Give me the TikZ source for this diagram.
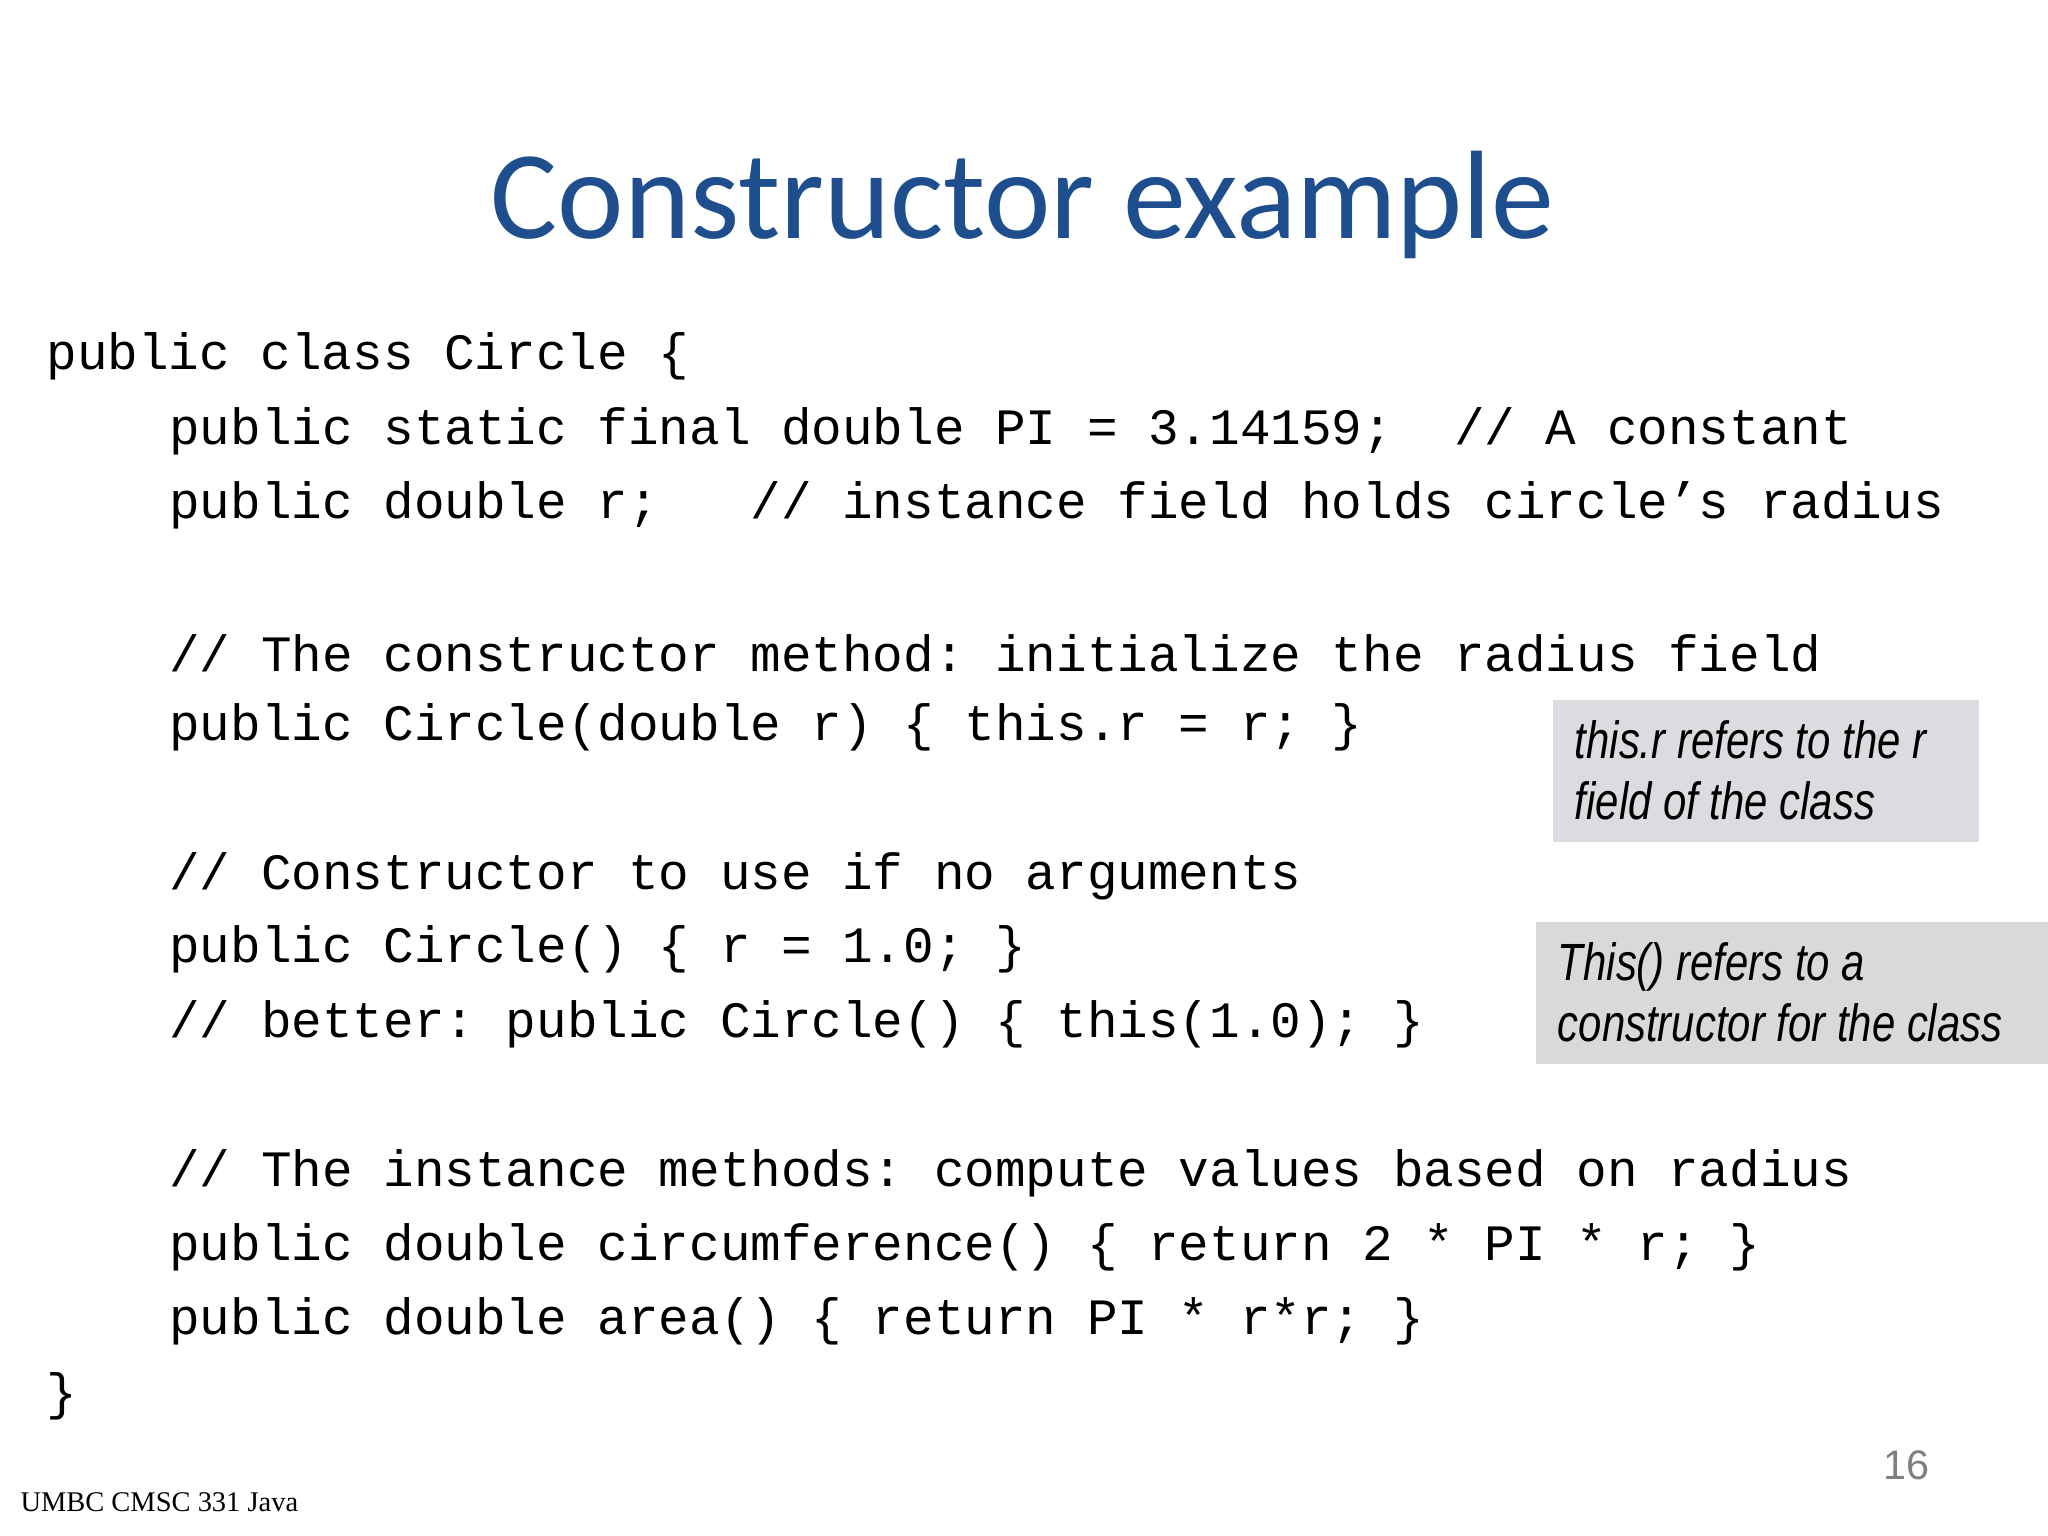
\documentclass[tikz,border=0pt]{standalone}
\usepackage{fontspec}
\setmainfont{Liberation Serif}
\setmonofont{Liberation Mono}
\newfontfamily\titlef{Carlito}
\newfontfamily\notef[FakeStretch=0.8]{Liberation Sans}
\newfontfamily\numf{Liberation Sans}
\definecolor{titleblue}{HTML}{1E4E8E}
\begin{document}
\begin{tikzpicture}[x=0.01cm,y=-0.01cm,
  code/.style={anchor=west,inner sep=0,font=\ttfamily\fontsize{11.1}{13}\selectfont},
  note/.style={anchor=north west,inner sep=0,align=left,font=\notef\itshape\fontsize{11.4}{13.3}\selectfont}]
\useasboundingbox (0,0) rectangle (1568,1176);
\node[font=\titlef\fontsize{27.4}{33}\selectfont,text=titleblue,inner sep=0] (title) at (783,157) {Constructor example};
\node[code] (l1) at (35,273) {public class Circle \{};
\node[code] (l2) at (129,330) {public static final double PI = 3.14159;\ \ // A constant};
\node[code] (l3) at (129,387) {public double r;\ \ \ // instance field holds circle’s radius};
\node[code] (l4) at (129,500) {// The constructor method: initialize the radius field};
\node[code] (l5) at (129,557) {public Circle(double r) \{ this.r = r; \}};
\node[code] (l6) at (129,671) {// Constructor to use if no arguments};
\node[code] (l7) at (129,727) {public Circle() \{ r = 1.0; \}};
\node[code] (l8) at (129,784) {// better: public Circle() \{ this(1.0); \}};
\node[code] (l9) at (129,898) {// The instance methods: compute values based on radius};
\node[code] (l10) at (129,955) {public double circumference() \{ return 2 * PI * r; \}};
\node[code] (l11) at (129,1012) {public double area() \{ return PI * r*r; \}};
\node[code] (l12) at (35,1069) {\}};
\fill[fill={rgb,255:red,220;green,220;blue,224}] (1189,536) rectangle (1515,645);
\node[note] (n1) at (1205,551) {this.r refers to the r\\field of the class};
\fill[fill={rgb,255:red,217;green,217;blue,217}] (1176,706) rectangle (1568,815);
\node[note] (n2) at (1192,721) {This() refers to a\\constructor for the class};
\node[font=\numf\fontsize{9}{10}\selectfont,text=gray,inner sep=0] (pg) at (1460,1122) {16};
\node[anchor=west,font=\fontsize{6.2}{7}\selectfont,inner sep=0] (foot) at (15,1150) {UMBC CMSC 331 Java};
\end{tikzpicture}
\end{document}
